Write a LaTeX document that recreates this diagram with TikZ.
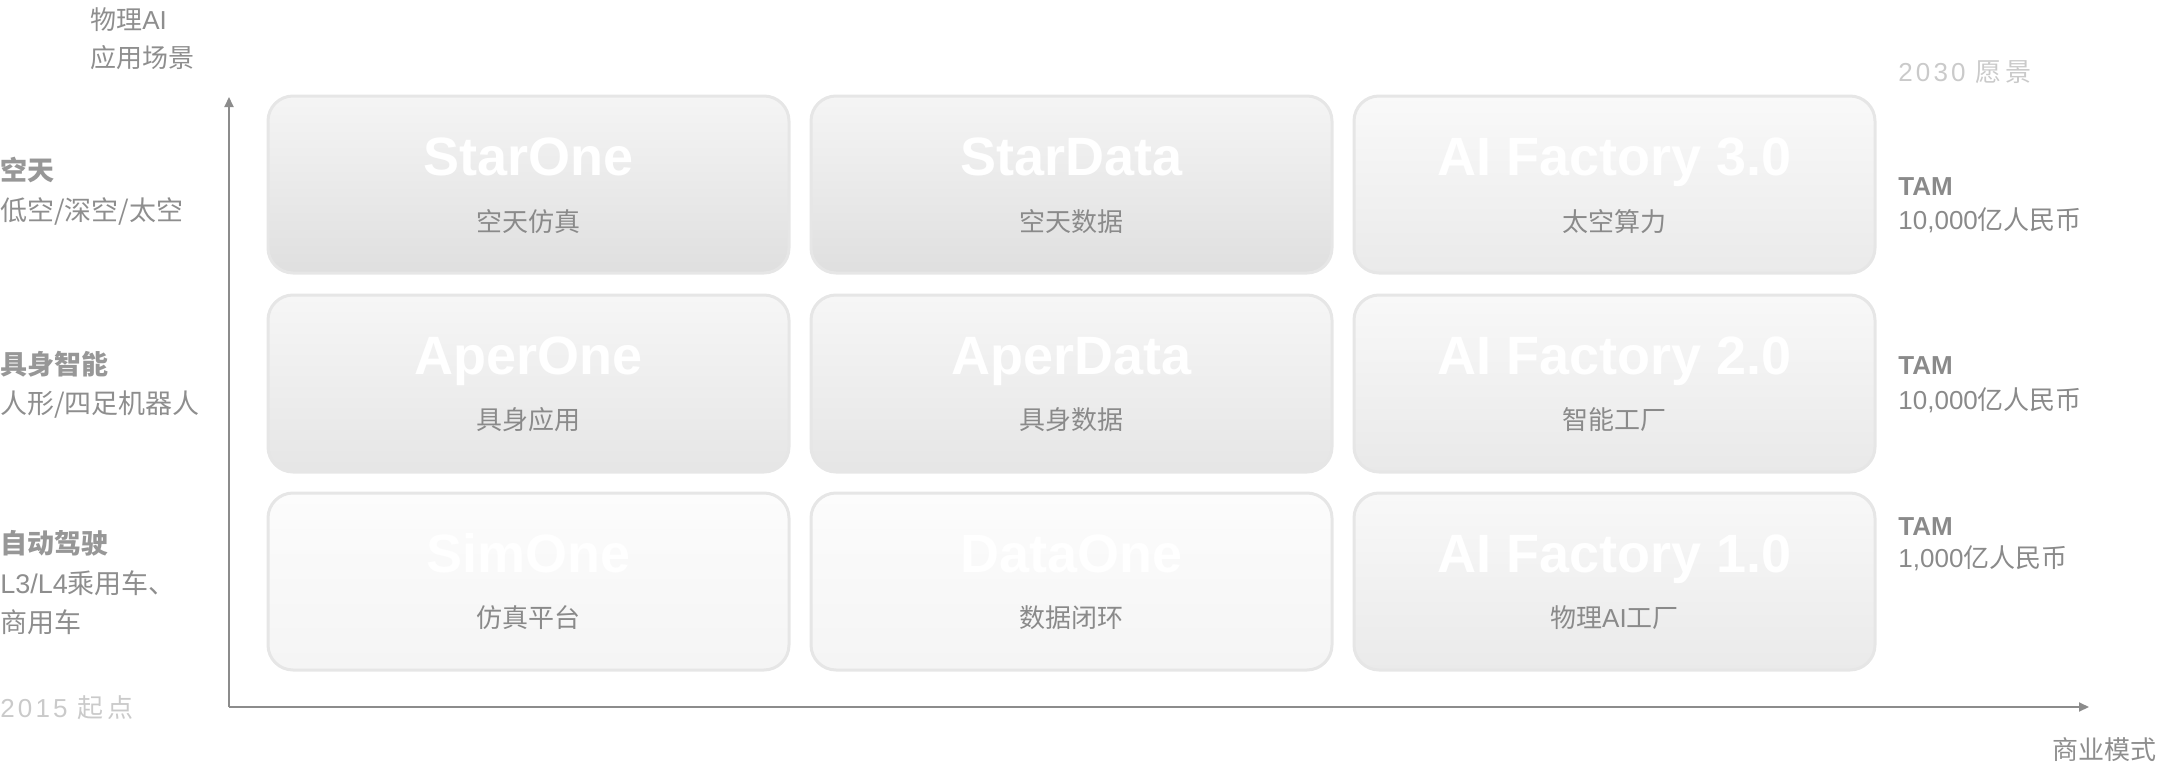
\documentclass[tikz,border=0pt]{standalone}
\usepackage{fontspec}
\setmainfont{Liberation Sans}
\newfontfamily\cjk{Noto Sans CJK SC}
\newfontfamily\cjkspaced{Noto Sans CJK SC}[LetterSpace=12]
\newfontfamily\latspaced{Liberation Sans}[LetterSpace=12]
\usetikzlibrary{arrows.meta}
\definecolor{axisgray}{HTML}{8C8C8C}
\definecolor{subgray}{HTML}{8A8A8A}
\definecolor{boldgray}{HTML}{979797}
\definecolor{reggray}{HTML}{8E8E8E}
\definecolor{faint}{HTML}{CACACA}
\definecolor{cellborder}{HTML}{E6E6E6}
\begin{document}
\begin{tikzpicture}[x=0.5pt,y=-0.5pt,
  cell/.style={rounded corners=12.5pt, draw=cellborder, line width=1.5pt,
    minimum width=260.5pt, minimum height=88.5pt, inner sep=0pt},
  dark/.style={top color=white!96!black, bottom color=white!87.5!black},
  darkc/.style={top color=white!97.6!black, bottom color=white!91.8!black},
  mid/.style={top color=white!96.5!black, bottom color=white!90!black},
  midc/.style={top color=white!97.3!black, bottom color=white!91.4!black},
  light/.style={top color=white!98.8!black, bottom color=white!96!black},
  lightc/.style={top color=white!97.3!black, bottom color=white!91.8!black},
  title/.style={font=\fontsize{27}{30}\selectfont\bfseries, text=white, anchor=base, inner sep=0pt},
  sub/.style={font=\fontsize{13}{15}\selectfont\cjk, text=subgray, inner sep=0pt},
  lbold/.style={font=\fontsize{13.5}{16}\selectfont\cjk\bfseries, text=boldgray, anchor=west, inner sep=0pt},
  lreg/.style={font=\fontsize{13.5}{16}\selectfont\cjk, text=reggray, anchor=west, inner sep=0pt},
  tam/.style={font=\fontsize{13}{15}\selectfont\bfseries, text=subgray, anchor=west, inner sep=0pt},
  tamv/.style={font=\fontsize{13}{15}\selectfont\cjk, text=subgray, anchor=west, inner sep=0pt},
  axlab/.style={font=\fontsize{13}{15}\selectfont\cjk, text=reggray, inner sep=0pt},
  faintlab/.style={font=\fontsize{13}{15}\selectfont, text=faint, anchor=west, inner sep=0pt},
  axis/.style={draw=axisgray, line width=1pt, -{Triangle[length=5pt,width=4.5pt]}}
]
\useasboundingbox (0,0) rectangle (2160,771);

% axes
\coordinate (O) at (229,707);
\coordinate (Ytop) at (229,97);
\coordinate (Xend) at (2089,707);
\draw[axis] (O) -- (Ytop);
\draw[axis] (O) -- (Xend);

% axis labels
\node[axlab, anchor=west] (yl1) at (90,20) {物理{\rmfamily AI}};
\node[axlab, anchor=west] (yl2) at (90,58) {应用场景};
\node[axlab, anchor=east] (xl) at (2157,750) {商业模式};
\node[faintlab] (start) at (0,708) {{\latspaced 2015 }{\cjkspaced 起点}};
\node[faintlab] (vision) at (1898,72) {{\latspaced 2030 }{\cjkspaced 愿景}};

% row labels
\node[lbold] (r1a) at (0,170) {空天};
\node[lreg] (r1b) at (0,211) {低空/深空/太空};
\node[lbold] (r2a) at (0,364) {具身智能};
\node[lreg] (r2b) at (0,405) {人形/四足机器人};
\node[lbold] (r3a) at (0,543) {自动驾驶};
\node[lreg] (r3b) at (0,583) {{\rmfamily L3/L4}乘用车、};
\node[lreg] (r3c) at (0,622) {商用车};

% boxes
\node[cell, dark] (b11) at (528.5,184.5) {};
\node[cell, dark] (b12) at (1071.5,184.5) {};
\node[cell, darkc] (b13) at (1614.5,184.5) {};
\node[cell, mid] (b21) at (528.5,383.5) {};
\node[cell, mid] (b22) at (1071.5,383.5) {};
\node[cell, midc] (b23) at (1614.5,383.5) {};
\node[cell, light] (b31) at (528.5,581.5) {};
\node[cell, light] (b32) at (1071.5,581.5) {};
\node[cell, lightc] (b33) at (1614.5,581.5) {};

% titles
\node[title] (t11) at (528.5,175) {StarOne};
\node[title] (t12) at (1071.5,175) {StarData};
\node[title] (t13) at (1614.5,175) {AI Factory 3.0};
\node[title] (t21) at (528.5,374) {AperOne};
\node[title] (t22) at (1071.5,374) {AperData};
\node[title] (t23) at (1614.5,374) {AI Factory 2.0};
\node[title] (t31) at (528.5,572) {SimOne};
\node[title] (t32) at (1071.5,572) {DataOne};
\node[title] (t33) at (1614.5,572) {AI Factory 1.0};

% subtitles
\node[sub] (s11) at (528.5,222) {空天仿真};
\node[sub] (s12) at (1071.5,222) {空天数据};
\node[sub] (s13) at (1614.5,222) {太空算力};
\node[sub] (s21) at (528.5,420) {具身应用};
\node[sub] (s22) at (1071.5,420) {具身数据};
\node[sub] (s23) at (1614.5,420) {智能工厂};
\node[sub] (s31) at (528.5,618) {仿真平台};
\node[sub] (s32) at (1071.5,618) {数据闭环};
\node[sub] (s33) at (1614.5,618) {物理{\rmfamily AI}工厂};

% TAM
\node[tam] (tam1) at (1898,187) {TAM};
\node[tamv] (v1) at (1898,220) {{\rmfamily 10,000}亿人民币};
\node[tam] (tam2) at (1898,366) {TAM};
\node[tamv] (v2) at (1898,400) {{\rmfamily 10,000}亿人民币};
\node[tam] (tam3) at (1898,527) {TAM};
\node[tamv] (v3) at (1898,558) {{\rmfamily 1,000}亿人民币};
\end{tikzpicture}
\end{document}
